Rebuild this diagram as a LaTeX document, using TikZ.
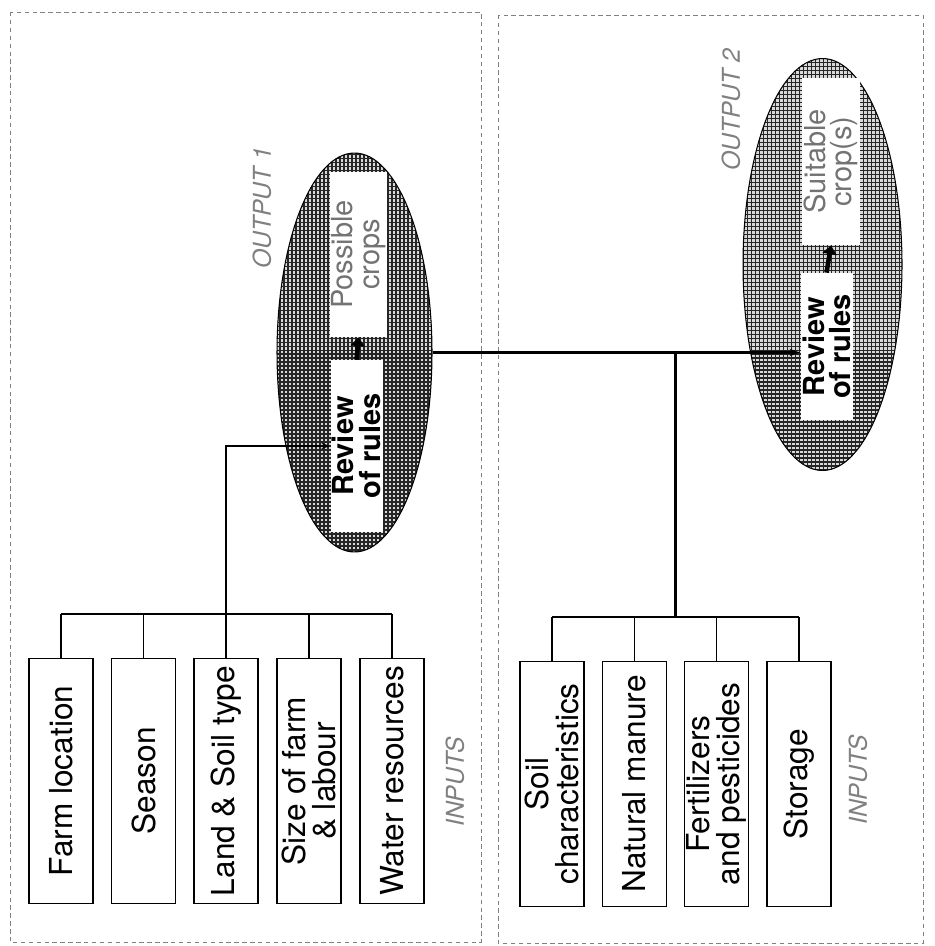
\documentclass[tikz,border=0pt]{standalone}
\usepackage{fontspec}
\setmainfont{TeX Gyre Heros}
\usetikzlibrary{calc, positioning, arrows.meta, shapes.geometric, patterns.meta}

\begin{document}
\begin{tikzpicture}[x=0.02cm, y=-0.02cm,
    panel/.style={draw=black!50, dash pattern=on 2.5pt off 2pt, line width=0.5pt},
    inbox/.style={draw, line width=0.9pt, rotate=90, inner sep=1pt,
      minimum width=4.9cm, minimum height=1.28cm, align=center,
      font=\fontsize{18}{17}\selectfont},
    oval/.style={ellipse, draw, line width=0.6pt, inner sep=0pt,
      preaction={fill=black!15}, pattern color=black!85,
      pattern={Hatch[distance=0.08cm, angle=0, line width=0.024cm]}},
    rulebox/.style={fill=white, rotate=90, inner sep=1pt, align=center,
      minimum height=1.04cm, font=\fontsize{16.5}{15}\selectfont\bfseries},
    cropbox/.style={fill=white, rotate=90, inner sep=1pt, align=center,
      minimum height=1.04cm, text=black!55, font=\fontsize{16.5}{15}\selectfont},
    tag/.style={rotate=90, text=black!50, font=\fontsize{14}{14}\selectfont\itshape},
    conn/.style={line width=1.3pt},
    tick/.style={line width=0.7pt},
    push/.style={line width=2.6pt, -{Triangle[length=5pt, width=8pt]}},
  ]
    \useasboundingbox (0,0) rectangle (934,946);
    % the two panels
    \draw[panel] (10,12) rectangle (481,942);
    \draw[panel] (498,15) rectangle (923,943);

    % first stage
    \node[inbox] (farm) at (61,781) {Farm location};
    \node[inbox] (season) at (143.5,781) {Season};
    \node[inbox] (land) at (226,781) {Land \& Soil type};
    \node[inbox] (size) at (309,781) {Size of farm\\ \& labour};
    \node[inbox] (water) at (392,781) {Water resources};
    \node[tag] (in1) at (455,782) {INPUTS};

    \node[oval, minimum width=3.1cm, minimum height=7.98cm] (e1) at (354.5,352.5) {};
    \node[rulebox, minimum width=3.44cm] (r1) at (356.5,446) {Review\\of rules};
    \node[cropbox, minimum width=3.3cm] (p1) at (358.5,254.5) {Possible\\crops};
    \node[tag] (out1) at (262,208) {OUTPUT 1};

    % second stage
    \node[inbox] (soil) at (552,784) {Soil\\characteristics};
    \node[inbox] (manure) at (634.5,784) {Natural manure};
    \node[inbox] (fert) at (716.5,784) {Fertilizers\\and pesticides};
    \node[inbox] (store) at (799,784) {Storage};
    \node[tag] (in2) at (858,780) {INPUTS};

    \node[oval, minimum width=3.18cm, minimum height=8.24cm] (e2) at (822.5,264.5) {};
    \node[rulebox, minimum width=2.94cm] (r2) at (826.5,346.5) {Review\\of rules};
    \node[cropbox, minimum width=3.34cm] (p2) at (831,161.5) {Suitable\\crop(s)};
    \node[tag] (out2) at (731,110) {OUTPUT 2};

    % brackets over the inputs
    \coordinate (lbar) at (0,614);
    \coordinate (rbar) at (0,617);
    \draw[tick] (farm.east |- lbar) -- (water.east |- lbar);
    \foreach \n in {farm,season,size,water}
      \draw[tick] (\n.east) -- (\n.east |- lbar);
    \draw[tick] (soil.east |- rbar) -- (store.east |- rbar);
    \foreach \n in {soil,manure,fert,store}
      \draw[tick] (\n.east) -- (\n.east |- rbar);

    % connectors
    \draw[conn, -{Stealth[length=5pt, width=3.5pt]}] (land.east) |- (r1.north);
    \draw[conn, -{Stealth[length=6pt, width=4pt]}] (e1.east) -- (e1.east -| r2.north);
    \coordinate (jn) at ($(manure.east)!0.5!(fert.east)$);
    \draw[conn] (jn |- rbar) -- (jn |- e1.east);
    \draw[push] (r1.east) -- (p1.west);
    \draw[push] (r2.east) -- (p2.west);
  \end{tikzpicture}
\end{document}
